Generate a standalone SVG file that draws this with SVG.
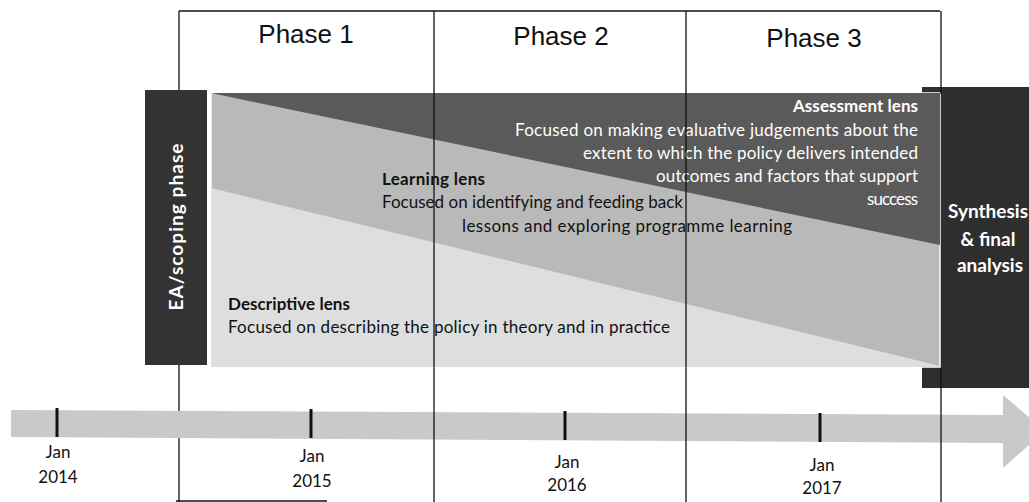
<svg xmlns="http://www.w3.org/2000/svg" width="1029" height="502" viewBox="0 0 1029 502">
  <style>
    .phase { font-family: "Liberation Sans", Arial, sans-serif; font-size: 26px; fill: #111; text-anchor: middle; }
    .body { font-family: Lato, "Liberation Sans", sans-serif; font-size: 17px; fill: #111; }
    .title { font-family: Lato, "Liberation Sans", sans-serif; font-size: 17px; font-weight: bold; fill: #111; }
    .rev { fill: #fff; }
    .box-label { font-family: Lato, "Liberation Sans", sans-serif; font-size: 19px; font-weight: bold; fill: #fff; text-anchor: middle; }
    .date { font-family: Lato, "Liberation Sans", sans-serif; font-size: 17px; fill: #111; text-anchor: middle; }
    .grid { stroke: #111; stroke-width: 1.3; fill: none; }
    .tick { stroke: #111; stroke-width: 3; }
  </style>

  <rect width="1029" height="502" fill="#fff"/>

  <!-- phase header frame and column dividers (under the shaded areas) -->
  <g id="phase-frame">
    <line class="grid" x1="179" y1="11" x2="940" y2="11"/>
    <line class="grid" x1="179" y1="11" x2="179" y2="502"/>
    <line class="grid" x1="176" y1="501" x2="327" y2="501"/>
    <text class="phase" x="306" y="43">Phase 1</text>
    <text class="phase" x="561" y="45">Phase 2</text>
    <text class="phase" x="814" y="47">Phase 3</text>
  </g>

  <!-- timeline arrow -->
  <g id="timeline">
    <polygon points="11,410 1003,415 1003,395 1045,431 1003,468 1003,443 11,437" fill="#c9c9c9"/>
    <line class="tick" x1="57" y1="408" x2="57" y2="437"/>
    <line class="tick" x1="311" y1="409" x2="311" y2="438"/>
    <line class="tick" x1="565" y1="411" x2="565" y2="440"/>
    <line class="tick" x1="820" y1="413" x2="820" y2="442"/>
    <text class="date" x="58" y="458">Jan</text>
    <text class="date" x="58" y="483">2014</text>
    <text class="date" x="312" y="462">Jan</text>
    <text class="date" x="312" y="487">2015</text>
    <text class="date" x="567" y="468">Jan</text>
    <text class="date" x="567" y="491">2016</text>
    <text class="date" x="822" y="471">Jan</text>
    <text class="date" x="822" y="494">2017</text>
  </g>

  <!-- early assessment / scoping block -->
  <g id="ea-scoping">
    <rect x="145" y="90" width="62" height="275" fill="#333"/>
    <text class="box-label" transform="translate(183,227) rotate(-90)" textLength="167">EA/scoping phase</text>
  </g>

  <!-- synthesis block -->
  <g id="synthesis">
    <rect x="922" y="87" width="107" height="301" fill="#2e2e2e"/>
    <text class="box-label" x="988" y="218">Synthesis</text>
    <text class="box-label" x="988" y="246">&amp; final</text>
    <text class="box-label" x="990" y="272">analysis</text>
  </g>

  <!-- the three evaluation lenses -->
  <g id="lenses">
    <rect x="211" y="93" width="729" height="274" fill="#b9b9b9" stroke="#fff" stroke-width="1.5"/>
    <polygon id="descriptive-area" points="211,188 940,366 940,367 211,367" fill="#dedede"/>
    <polygon id="assessment-area" points="211,93 940,93 940,245" fill="#5a5a5a"/>
  </g>

  <g id="assessment-lens">
    <text class="title rev" x="918" y="112" text-anchor="end" textLength="125">Assessment lens</text>
    <text class="body rev" x="918" y="136" text-anchor="end" textLength="403">Focused on making evaluative judgements about the</text>
    <text class="body rev" x="918" y="159" text-anchor="end" textLength="335">extent to which the policy delivers intended</text>
    <text class="body rev" x="918" y="182" text-anchor="end" textLength="262">outcomes and factors that support</text>
    <text class="body rev" x="918" y="205" text-anchor="end" textLength="51">success</text>
  </g>

  <g id="learning-lens">
    <text class="title" x="382" y="185" textLength="103">Learning lens</text>
    <text class="body" x="382" y="208" textLength="301">Focused on identifying and feeding back</text>
    <text class="body" x="462" y="232" textLength="330">lessons and exploring programme learning</text>
  </g>

  <g id="descriptive-lens">
    <text class="title" x="228" y="310" textLength="122">Descriptive lens</text>
    <text class="body" x="228" y="333" textLength="442">Focused on describing the policy in theory and in practice</text>
  </g>

  <!-- column dividers drawn over the lenses -->
  <g id="connectors">
    <line class="grid" x1="434" y1="11" x2="434" y2="502"/>
    <line class="grid" x1="686" y1="11" x2="686" y2="502"/>
    <line class="grid" x1="941" y1="11" x2="941" y2="94"/>
    <line class="grid" x1="941" y1="368" x2="941" y2="502"/>
  </g>
</svg>
